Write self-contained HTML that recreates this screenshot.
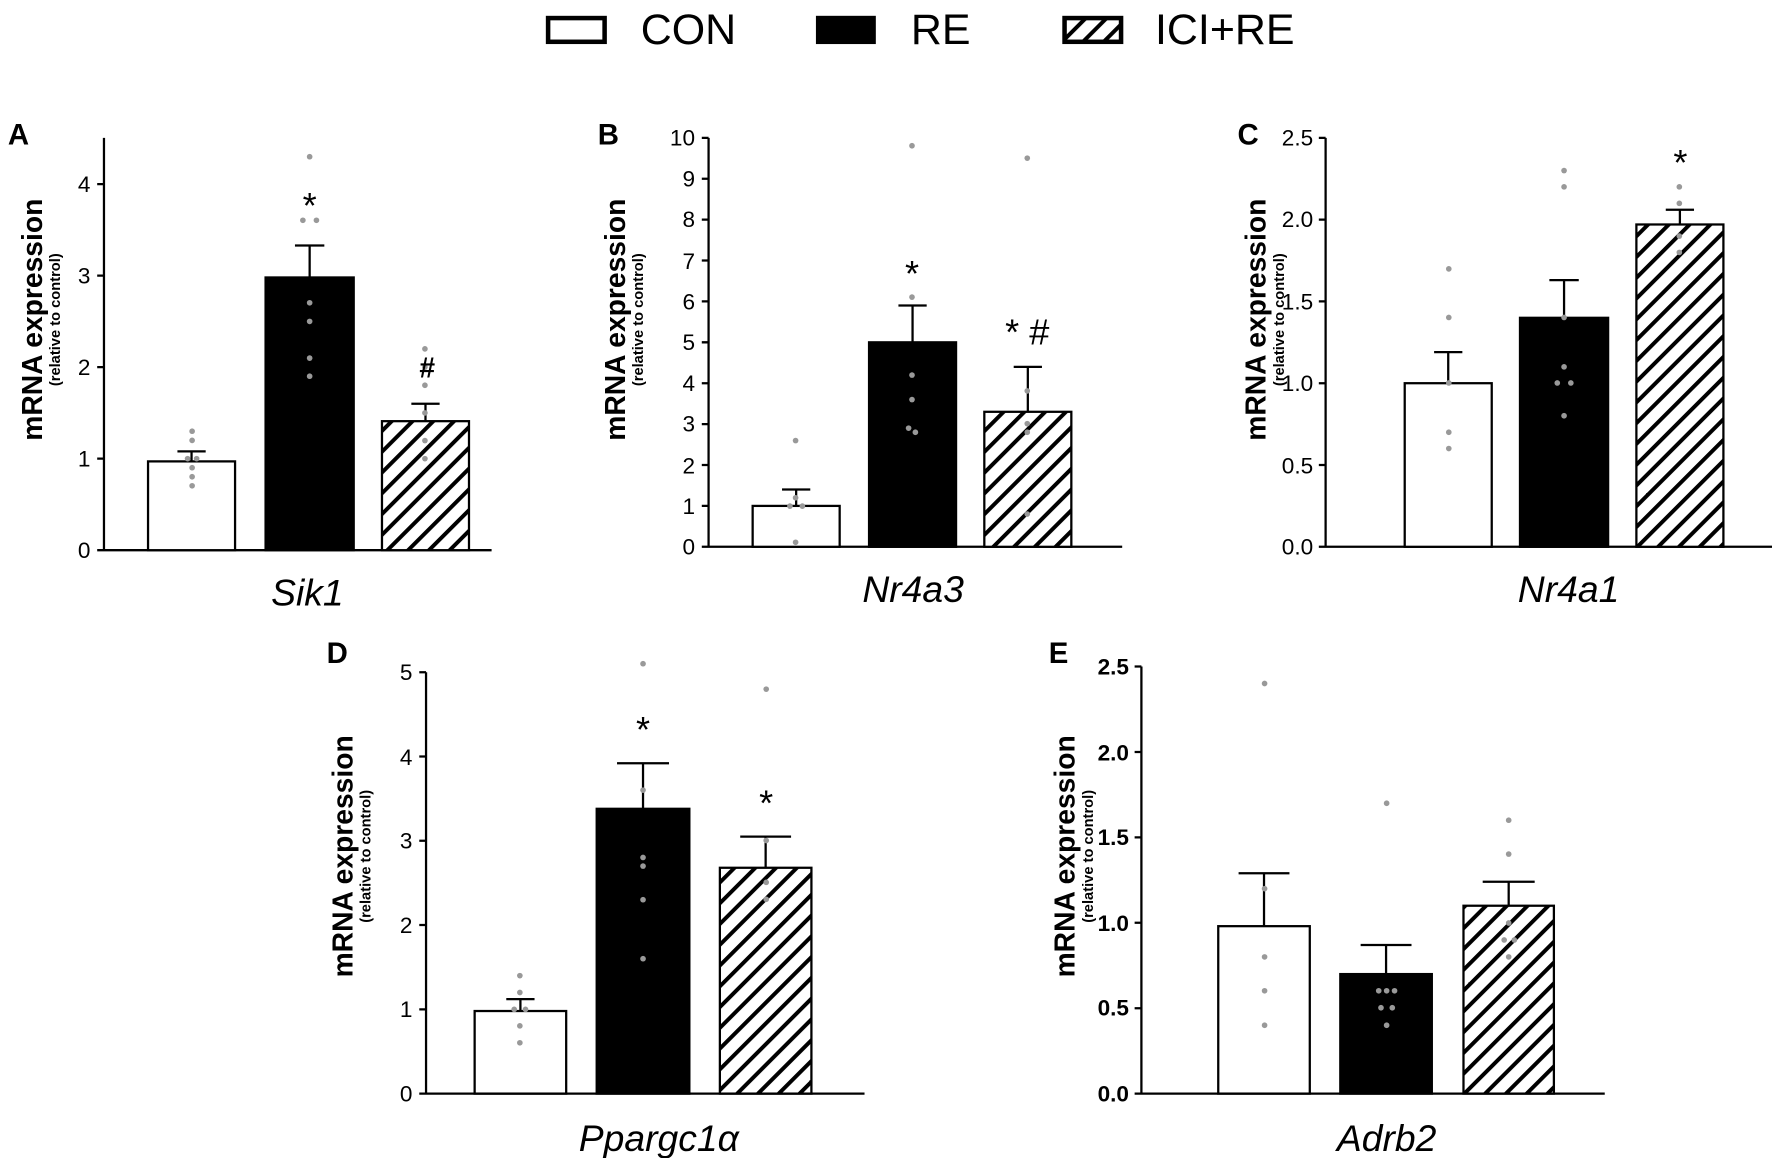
<!DOCTYPE html>
<html><head><meta charset="utf-8"><style>html,body{margin:0;padding:0;background:#fff}svg{display:block}</style></head><body>
<svg width="1772" height="1158" viewBox="0 0 1568 1025" preserveAspectRatio="none" xmlns="http://www.w3.org/2000/svg" font-family="Liberation Sans, sans-serif">
<defs>
<pattern id="h" patternUnits="userSpaceOnUse" width="13" height="13" patternTransform="rotate(45)">
<rect width="13" height="13" fill="#fff"/><rect x="0" y="0" width="3.5" height="13" fill="#000"/>
</pattern>
</defs>
<rect width="1568" height="1025" fill="#fff"/>
<!-- legend -->
<rect x="485" y="16" width="50" height="21" fill="#fff" stroke="#000" stroke-width="4"/>
<text x="567" y="39" font-size="38">CON</text>
<rect x="722" y="14" width="53" height="25" fill="#000"/>
<text x="806" y="39" font-size="38">RE</text>
<rect x="942" y="16" width="50" height="21" fill="url(#h)" stroke="#000" stroke-width="4"/>
<text x="1022" y="39" font-size="38">ICI+RE</text>

<g fill="#000" font-weight="bold">
<text x="7" y="128" font-size="26">A</text>
<text x="529" y="128" font-size="26">B</text>
<text x="1095" y="128" font-size="26">C</text>
<text x="289" y="587" font-size="26">D</text>
<text x="928" y="587" font-size="26">E</text>
</g>

<!-- Y labels -->
<g font-weight="bold" text-anchor="middle">
<text transform="translate(37,283) rotate(-90)" font-size="25">mRNA expression</text>
<text transform="translate(53,283) rotate(-90)" font-size="13">(relative to control)</text>
<text transform="translate(553,283) rotate(-90)" font-size="25">mRNA expression</text>
<text transform="translate(569,283) rotate(-90)" font-size="13">(relative to control)</text>
<text transform="translate(1120,283) rotate(-90)" font-size="25">mRNA expression</text>
<text transform="translate(1136,283) rotate(-90)" font-size="13">(relative to control)</text>
<text transform="translate(312,758) rotate(-90)" font-size="25">mRNA expression</text>
<text transform="translate(328,758) rotate(-90)" font-size="13">(relative to control)</text>
<text transform="translate(951,758) rotate(-90)" font-size="25">mRNA expression</text>
<text transform="translate(967,758) rotate(-90)" font-size="13">(relative to control)</text>
</g>

<g stroke="#000" stroke-width="2" fill="none">
<path d="M92 122V487H435 M86 487H92 M86 406H92 M86 325H92 M86 244H92 M86 163H92"/>
<path d="M627 122V484H993 M621 484H627 M621 447.8H627 M621 411.6H627 M621 375.4H627 M621 339.2H627 M621 303H627 M621 266.8H627 M621 230.6H627 M621 194.4H627 M621 158.2H627 M621 122H627"/>
<path d="M1173 122V484H1568 M1167 484H1173 M1167 411.6H1173 M1167 339.2H1173 M1167 266.8H1173 M1167 194.4H1173 M1167 122H1173"/>
<path d="M377 595V968H765 M371 968H377 M371 893.4H377 M371 818.8H377 M371 744.2H377 M371 669.6H377 M371 595H377"/>
<path d="M1010 590V968H1420 M1004 968H1010 M1004 892.4H1010 M1004 816.8H1010 M1004 741.2H1010 M1004 665.6H1010 M1004 590H1010"/>
</g>

<g font-size="20" text-anchor="end" fill="#000">
<text x="80" y="494">0</text><text x="80" y="413">1</text><text x="80" y="332">2</text><text x="80" y="251">3</text><text x="80" y="170">4</text>
<text x="615" y="491">0</text><text x="615" y="455">1</text><text x="615" y="419">2</text><text x="615" y="382">3</text><text x="615" y="346">4</text><text x="615" y="310">5</text><text x="615" y="274">6</text><text x="615" y="238">7</text><text x="615" y="201">8</text><text x="615" y="165">9</text><text x="615" y="129">10</text>
<text x="1162" y="491">0.0</text><text x="1162" y="419">0.5</text><text x="1162" y="346">1.0</text><text x="1162" y="274">1.5</text><text x="1162" y="201">2.0</text><text x="1162" y="129">2.5</text>
<text x="365" y="975">0</text><text x="365" y="900">1</text><text x="365" y="826">2</text><text x="365" y="751">3</text><text x="365" y="677">4</text><text x="365" y="602">5</text>
<g font-weight="bold"><text x="999" y="975">0.0</text><text x="999" y="899">0.5</text><text x="999" y="824">1.0</text><text x="999" y="748">1.5</text><text x="999" y="673">2.0</text><text x="999" y="597">2.5</text></g>
</g>

<g stroke="#000" stroke-width="2">
<rect x="131" y="408.4" width="77" height="78.6" fill="#fff"/>
<rect x="235" y="245.6" width="78" height="241.4" fill="#000"/>
<rect x="338" y="372.8" width="77" height="114.2" fill="url(#h)"/>
<rect x="666" y="447.8" width="77" height="36.2" fill="#fff"/>
<rect x="769" y="303" width="77" height="181" fill="#000"/>
<rect x="871" y="364.5" width="77" height="119.5" fill="url(#h)"/>
<rect x="1243" y="339.2" width="77" height="144.8" fill="#fff"/>
<rect x="1345" y="281.3" width="78" height="202.7" fill="#000"/>
<rect x="1448" y="198.7" width="77" height="285.3" fill="url(#h)"/>
<rect x="420" y="894.9" width="81" height="73.1" fill="#fff"/>
<rect x="528" y="715.9" width="82" height="252.1" fill="#000"/>
<rect x="637" y="768.1" width="81" height="199.9" fill="url(#h)"/>
<rect x="1078" y="819.8" width="81" height="148.2" fill="#fff"/>
<rect x="1186" y="862.2" width="81" height="105.8" fill="#000"/>
<rect x="1295" y="801.7" width="80" height="166.3" fill="url(#h)"/>
</g>
<g stroke="#000" stroke-width="2" fill="none">
<path d="M169.5 408V399.5M157 399.5H182"/>
<path d="M274 246V217.3M261 217.3H287"/>
<path d="M376.5 373V357.4M364 357.4H389"/>
<path d="M704.5 448V433.3M692 433.3H717"/>
<path d="M807.5 303V270.4M795 270.4H820"/>
<path d="M909.5 364V324.7M897 324.7H922"/>
<path d="M1281.5 339V311.7M1269 311.7H1294"/>
<path d="M1384 281V248M1371 248H1397"/>
<path d="M1486.5 198V185.7M1474 185.7H1499"/>
<path d="M460.5 895V884.4M448 884.4H473"/>
<path d="M569 716V675.6M546 675.6H592"/>
<path d="M677.5 768V740.5M655 740.5H700"/>
<path d="M1118.5 820V773M1096 773H1141"/>
<path d="M1226.5 862V836.5M1204 836.5H1249"/>
<path d="M1335 802V780.5M1312 780.5H1358"/>
</g>

<g fill="#999">
<circle cx="170" cy="381.7" r="2.5"/><circle cx="170" cy="389.8" r="2.5"/><circle cx="166" cy="406" r="2.5"/><circle cx="174" cy="406" r="2.5"/><circle cx="170" cy="414" r="2.5"/><circle cx="170" cy="422" r="2.5"/><circle cx="170" cy="430" r="2.5"/>
<circle cx="274" cy="138.7" r="2.5"/><circle cx="268" cy="195" r="2.5"/><circle cx="280" cy="195" r="2.5"/><circle cx="274" cy="268" r="2.5"/><circle cx="274" cy="284.5" r="2.5"/><circle cx="274" cy="317" r="2.5"/><circle cx="274" cy="333" r="2.5"/>
<circle cx="376" cy="308.8" r="2.5"/><circle cx="376" cy="325" r="2.5"/><circle cx="376" cy="341" r="2.5"/><circle cx="376" cy="365.5" r="2.5"/><circle cx="376" cy="390" r="2.5"/><circle cx="376" cy="406" r="2.5"/>
<circle cx="704" cy="390" r="2.5"/><circle cx="704" cy="440.6" r="2.5"/><circle cx="699" cy="448" r="2.5"/><circle cx="710" cy="448" r="2.5"/><circle cx="704" cy="480" r="2.5"/>
<circle cx="807" cy="129" r="2.5"/><circle cx="807" cy="263" r="2.5"/><circle cx="807" cy="332" r="2.5"/><circle cx="807" cy="353.7" r="2.5"/><circle cx="804" cy="379" r="2.5"/><circle cx="810" cy="382.6" r="2.5"/>
<circle cx="909" cy="140" r="2.5"/><circle cx="909" cy="346" r="2.5"/><circle cx="909" cy="375" r="2.5"/><circle cx="909" cy="382.6" r="2.5"/><circle cx="909" cy="455" r="2.5"/>
<circle cx="1282" cy="238" r="2.5"/><circle cx="1282" cy="281" r="2.5"/><circle cx="1282" cy="339" r="2.5"/><circle cx="1282" cy="382.6" r="2.5"/><circle cx="1282" cy="397" r="2.5"/>
<circle cx="1384" cy="151" r="2.5"/><circle cx="1384" cy="165.4" r="2.5"/><circle cx="1384" cy="281" r="2.5"/><circle cx="1384" cy="324.7" r="2.5"/><circle cx="1378" cy="339" r="2.5"/><circle cx="1390" cy="339" r="2.5"/><circle cx="1384" cy="368" r="2.5"/>
<circle cx="1486" cy="165.4" r="2.5"/><circle cx="1486" cy="180" r="2.5"/><circle cx="1486" cy="209" r="2.5"/><circle cx="1486" cy="223.4" r="2.5"/>
<circle cx="460" cy="863.6" r="2.5"/><circle cx="460" cy="878.5" r="2.5"/><circle cx="455" cy="893.4" r="2.5"/><circle cx="465" cy="893.4" r="2.5"/><circle cx="460" cy="908" r="2.5"/><circle cx="460" cy="923" r="2.5"/>
<circle cx="569" cy="587.5" r="2.5"/><circle cx="569" cy="699.4" r="2.5"/><circle cx="569" cy="759" r="2.5"/><circle cx="569" cy="766.6" r="2.5"/><circle cx="569" cy="796.4" r="2.5"/><circle cx="569" cy="848.6" r="2.5"/>
<circle cx="678" cy="610" r="2.5"/><circle cx="678" cy="744" r="2.5"/><circle cx="678" cy="781" r="2.5"/><circle cx="678" cy="796" r="2.5"/>
<circle cx="1119" cy="605" r="2.5"/><circle cx="1119" cy="786.6" r="2.5"/><circle cx="1119" cy="847" r="2.5"/><circle cx="1119" cy="877" r="2.5"/><circle cx="1119" cy="907.5" r="2.5"/>
<circle cx="1227" cy="711" r="2.5"/><circle cx="1220" cy="877" r="2.5"/><circle cx="1227" cy="877" r="2.5"/><circle cx="1234" cy="877" r="2.5"/><circle cx="1222" cy="892" r="2.5"/><circle cx="1232" cy="892" r="2.5"/><circle cx="1227" cy="907.5" r="2.5"/>
<circle cx="1335" cy="726" r="2.5"/><circle cx="1335" cy="756" r="2.5"/><circle cx="1335" cy="817" r="2.5"/><circle cx="1331" cy="832" r="2.5"/><circle cx="1340" cy="832" r="2.5"/><circle cx="1335" cy="847" r="2.5"/>
</g>

<g font-size="32" text-anchor="middle" fill="#000">
<text x="274" y="193">*</text>
<text x="378" y="334" font-size="25" font-weight="bold">#</text>
<text x="807" y="253">*</text>
<text x="909" y="305">* #</text>
<text x="1487" y="155">*</text>
<text x="569" y="657">*</text>
<text x="678" y="722">*</text>
</g>

<g font-size="33" font-style="italic" text-anchor="middle" fill="#000">
<text x="272" y="536">Sik1</text>
<text x="808" y="533">Nr4a3</text>
<text x="1388" y="533">Nr4a1</text>
<text x="583" y="1019">Ppargc1α</text>
<text x="1227" y="1019">Adrb2</text>
</g>
</svg>
</body></html>
